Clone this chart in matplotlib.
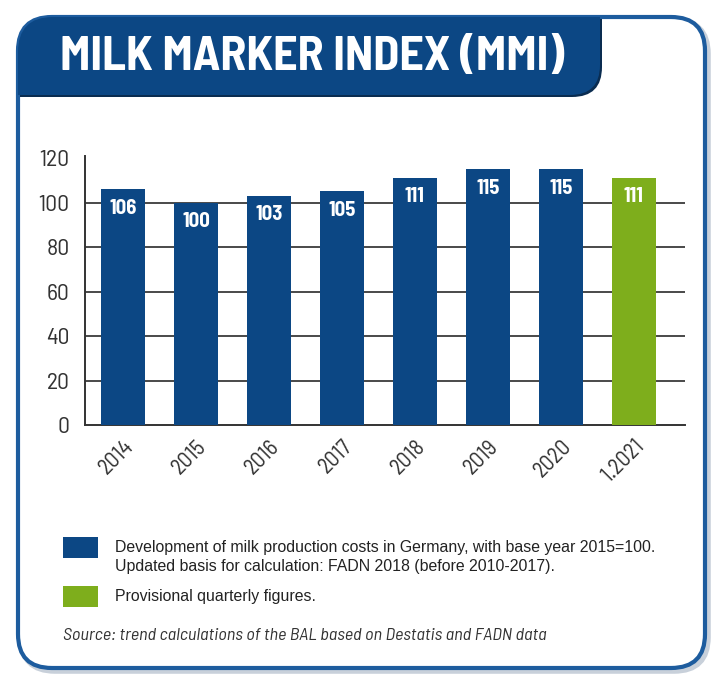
import matplotlib.pyplot as plt
from matplotlib.path import Path
from matplotlib.patches import PathPatch, FancyBboxPatch, Rectangle

years = ['2014', '2015', '2016', '2017', '2018', '2019', '2020', '1.2021']
index = [106, 100, 103, 105, 111, 115, 115, 111]
provisional = [False, False, False, False, False, False, False, True]
yticks = [0, 20, 40, 60, 80, 100, 120]

title = 'MILK MARKER INDEX (MMI)'
legend_blue = ('Development of milk production costs in Germany, with base year 2015=100.\n'
               'Updated basis for calculation: FADN 2018 (before 2010-2017).')
legend_green = 'Provisional quarterly figures.'
source = 'Source: trend calculations of the BAL based on Destatis and FADN data'

blue = '#0c4784'
green = '#7eae1c'
border = '#1d5c9e'
din = ['Barlow Semi Condensed', 'DejaVu Sans']

W, H = 720, 688
fig = plt.figure(figsize=(W / 100, H / 100), dpi=100)

# background layer in pixel coordinates
bg = fig.add_axes([0, 0, 1, 1])
bg.set_xlim(0, W)
bg.set_ylim(H, 0)
bg.axis('off')

# shadow and panel frame
bg.add_patch(FancyBboxPatch((21, 20), 687, 651, boxstyle='round,pad=0,rounding_size=34',
                            fc='none', ec='#c8d0da', lw=4, zorder=1))
bg.add_patch(FancyBboxPatch((18, 17), 687, 651, boxstyle='round,pad=0,rounding_size=34',
                            fc='white', ec=border, lw=3, zorder=2))

# header tab (shadow + tab)
verts = [(18, 95), (18, 52), (18, 17), (53, 17), (600, 17), (600, 65),
         (600, 95), (570, 95), (18, 95)]
codes = [Path.MOVETO, Path.LINETO, Path.CURVE3, Path.CURVE3, Path.LINETO,
         Path.LINETO, Path.CURVE3, Path.CURVE3, Path.CLOSEPOLY]
shadow = [(vx + 2, vy + 2) for vx, vy in verts]
bg.add_patch(PathPatch(Path(shadow, codes), fc='#0a2c50', ec='none', zorder=3))
bg.add_patch(PathPatch(Path(verts, codes), fc=blue, ec='none', zorder=3))
bg.text(60, 57, title, color='white', fontsize=34.5, fontweight=700,
        family=din, va='center', ha='left', zorder=4)

# legend
bg.add_patch(Rectangle((63, 537), 35, 21, fc=blue, ec='none', zorder=3))
bg.add_patch(Rectangle((63, 586), 35, 21, fc=green, ec='none', zorder=3))
bg.text(115, 557, legend_blue, fontsize=11.4, color='#222222', family='Liberation Sans',
        va='center', ha='left', linespacing=1.3, zorder=4)
bg.text(115, 596, legend_green, fontsize=11.4, color='#222222', family='Liberation Sans',
        va='center', ha='left', zorder=4)
bg.text(63, 636, source, fontsize=13.1, color='#333333', family=din, style='italic',
        va='center', ha='left', zorder=4)

# chart
ax = fig.add_axes([85 / W, (H - 425) / H, 600 / W, (425 - 155.8) / H])
ax.patch.set_alpha(0)
x = list(range(len(years)))
colors = [green if p else blue for p in provisional]
bars = ax.bar(x, index, width=0.6, color=colors, zorder=3)
for t in yticks[1:-1]:
    ax.axhline(t, color='#3a3a3a', lw=1.3, zorder=1)
for b, v in zip(bars, index):
    ax.text(b.get_x() + b.get_width() / 2, v - 8.5, str(v), color='white', fontsize=15,
            fontweight=700, family=din, ha='center', va='center', zorder=4)

ax.set_xlim(-0.52, 7.7)
ax.set_ylim(0, 121)
ax.set_yticks(yticks)
ax.set_yticklabels([str(t) for t in yticks], fontsize=17, color='#333333', family=din)
ax.set_xticks(x)
ax.set_xticklabels(years, rotation=45, ha='right', rotation_mode='anchor',
                   fontsize=16, color='#333333', family=din)
ax.tick_params(axis='both', length=0)
ax.tick_params(axis='y', pad=11)
ax.tick_params(axis='x', pad=8)
for s in ['top', 'right']:
    ax.spines[s].set_visible(False)
for s in ['left', 'bottom']:
    ax.spines[s].set_color('#333333')
    ax.spines[s].set_linewidth(1.4)

fig.savefig('out.png', dpi=100)
